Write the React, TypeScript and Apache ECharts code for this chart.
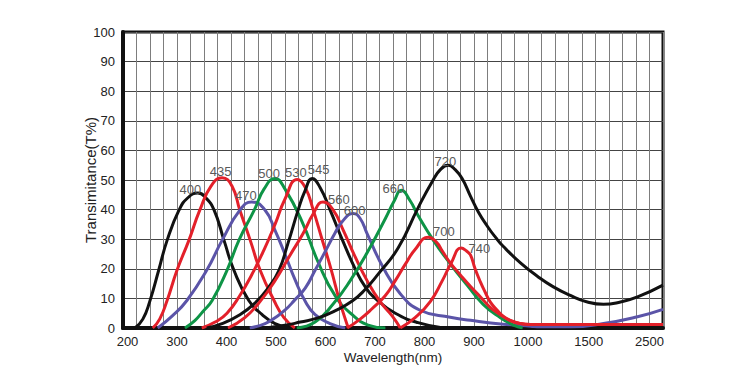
import React, { useEffect, useRef } from "react";
import * as echarts from "echarts";

// Axis tick labels (wavelength, nm) and the non-linear positions of the printed axis (in grid columns)
const X_TICKS = [200, 300, 400, 500, 600, 700, 800, 900, 1000, 1500, 2500];
const X_TICK_COLUMNS = [1 / 3, 4, 23 / 3, 34 / 3, 15, 56 / 3, 67 / 3, 26, 30, 34.5, 39];
const X_COLUMNS = 40;
const Y_MIN = 0;
const Y_MAX = 100;
const Y_STEP = 10;

// Transmittance curves: [wavelength (nm), T (%)]
const C400 = [[215,0],[231,3],[245,9],[263,19.5],[280,29.6],[304,39.8],[322,44],[342,45.6],[358,44],[375,39.8],[395,29.6],[415,19.5],[445,9.3],[472,4.5],[498,1.5],[528,0]];
const C435 = [[251,0],[265,3],[280,9.3],[300,19.5],[324,29.6],[346,39.8],[369,48],[391,50.8],[411,48],[427,39.8],[448,29.6],[468,19.5],[496,9.3],[516,3.5],[538,0]];
const C470 = [[261,0],[290,4],[320,9.3],[360,19.5],[391,29.6],[427,39.8],[451,42.6],[478,39.8],[498,33],[518,25],[538,16.5],[559,9],[579,4.5],[609,1.5],[640,0]];
const C500 = [[316,0],[336,2.5],[352,5.5],[371,9.3],[401,19.5],[425,29.6],[456,39.8],[476,47],[498,50.5],[518,47],[553,35.8],[585,22.3],[619,11],[654,4.5],[686,1],[721,0]];
const C530 = [[350,0],[377,2],[401,5],[427,11],[451,18],[476,26.5],[498,35],[518,43.5],[543,50.2],[559,47.5],[575,40],[593,30],[611,20],[627,10],[638,4],[646,0]];
const C545 = [[360,0],[391,1.5],[427,4.5],[458,8.5],[484,13.5],[506,19.5],[524,28.5],[545,40],[559,46.5],[573,50.5],[589,47.5],[609,40],[636,29],[660,20],[680,14],[704,9.5],[741,5],[787,1.8],[838,0]];
const C560 = [[403,0],[437,3.5],[468,9],[498,16],[528,24.5],[555,32],[575,38.5],[595,42.6],[615,40],[636,33],[660,24],[684,16],[710,9],[735,4],[751,0]];
const C600 = [[447,0],[478,1.5],[498,3.5],[518,6],[538,9.5],[559,13.5],[579,19.5],[599,25.7],[619,32],[634,36],[656,38.7],[670,37],[684,31.9],[716,20.6],[751,11.6],[791,6],[852,3.6],[893,2.6],[954,1.3],[1020,0.6],[1102,0.4],[1349,0.4],[1742,1.5],[2303,3.8],[2722,6.3]];
const C660 = [[542,0],[579,2],[615,8],[650,16],[686,26],[721,37],[739,43],[753,46.5],[771,43],[785,38.6],[818,29.6],[852,21.7],[886,14.5],[917,8],[949,3.5],[973,1],[990,0]];
const C700 = [[644,0],[670,3],[694,6.5],[721,11],[741,16],[761,21.5],[781,26.5],[808,30.7],[824,29],[836,26],[852,22],[872,18],[893,14],[912,10.5],[930,7],[949,4.5],[967,2.5],[986,1.5],[1020,1.2],[1500,1.2],[2722,1.2]];
const C720 = [[478,0],[518,0.9],[549,2],[585,3.4],[619,5.8],[654,9.1],[680,13],[706,18.1],[747,27.1],[787,40.6],[816,49.6],[832,53.5],[848,55],[862,53.5],[876,50.5],[893,44.5],[908,39.2],[925,34.3],[940,30.6],[954,27.6],[986,22],[1077,17.5],[1209,13.9],[1349,11],[1489,8.8],[1742,8],[2023,8.8],[2303,10.5],[2722,14.5]];
const C740 = [[751,0],[781,3.5],[812,9],[836,16],[854,22],[874,27],[885,26],[893,24.6],[902,20],[912,15.5],[921,12],[930,8.8],[943,6],[954,4],[971,2.3],[986,1.5],[1020,1.2],[1500,1.2],[2722,1.2]];

// Peak annotations: text and where it sits [wavelength, T]
const PEAK_LABELS = ["400", "435", "470", "500", "530", "545", "560", "600", "660", "700", "720", "740"];
const PEAK_LABEL_AT = [[327,46.9],[388,52.9],[439,44.8],[486,52.3],[540,52.4],[586,53.6],[627,43.5],[659,39.8],[737,47.1],[839,32.7],[842,56.3],[910,26.9]];

const CURVES = [C400, C435, C470, C500, C530, C545, C560, C600, C660, C700, C720, C740];
const COLORS = ["#111111", "#e3202a", "#5b54a8", "#0e9446", "#e3202a", "#111111", "#e3202a", "#5b54a8", "#0e9446", "#e3202a", "#111111", "#e3202a"];

function toCol(w: number): number {
  const n = X_TICKS.length;
  let i = 0;
  if (w <= X_TICKS[0]) i = 0;
  else if (w >= X_TICKS[n - 1]) i = n - 2;
  else {
    while (i < n - 2 && w > X_TICKS[i + 1]) i++;
  }
  const w0 = X_TICKS[i], w1 = X_TICKS[i + 1];
  const c0 = X_TICK_COLUMNS[i], c1 = X_TICK_COLUMNS[i + 1];
  return c0 + ((w - w0) / (w1 - w0)) * (c1 - c0);
}

const FONT = "Arial, 'Liberation Sans', Helvetica, sans-serif";

export default function App() {
  const ref = useRef<HTMLDivElement>(null);
  useEffect(() => {
    if (!ref.current) return;
    const chart = echarts.init(ref.current, undefined, { renderer: "svg" });
    const series = CURVES.map((curve, idx) => ({
      type: "line",
      name: PEAK_LABELS[idx],
      data: curve.map(([w, t]) => [toCol(w), t]),
      smooth: 0.5,
      symbol: "none",
      lineStyle: { color: COLORS[idx], width: 3 },
      itemStyle: { color: COLORS[idx] },
      clip: true,
      markPoint: {
        symbol: "circle",
        symbolSize: 1,
        itemStyle: { color: "rgba(0,0,0,0)" },
        silent: true,
        label: {
          show: true,
          position: "inside",
          color: "#5a5a5a",
          fontSize: 13,
          fontFamily: FONT,
          formatter: () => PEAK_LABELS[idx],
        },
        data: [{ coord: [toCol(PEAK_LABEL_AT[idx][0]), PEAK_LABEL_AT[idx][1]], value: PEAK_LABELS[idx] }],
      },
    }));
    chart.setOption({
      animation: false,
      backgroundColor: "#ffffff",
      grid: {
        left: 123,
        right: 87,
        top: 32,
        bottom: 52,
        show: true,
        borderColor: "#111",
        borderWidth: 3,
      },
      xAxis: {
        type: "value",
        min: 0,
        max: X_COLUMNS,
        interval: 1,
        name: "Wavelength(nm)",
        nameLocation: "middle",
        nameGap: 22,
        nameMoveOverlap: false,
        nameTextStyle: { fontSize: 13.5, color: "#222", fontFamily: FONT },
        axisLine: { show: true, lineStyle: { color: "#111", width: 4 } },
        axisTick: { show: false },
        splitLine: { show: true, lineStyle: { color: "#7d7d7d", width: 1 } },
        axisLabel: {
          customValues: X_TICK_COLUMNS,
          margin: 7,
          fontSize: 13,
          color: "#222",
          fontFamily: FONT,
          formatter: (v: number) => {
            const i = X_TICK_COLUMNS.findIndex((c) => Math.abs(c - v) < 1e-6);
            return i >= 0 ? String(X_TICKS[i]) : "";
          },
        },
      },
      yAxis: {
        type: "value",
        min: Y_MIN,
        max: Y_MAX,
        interval: Y_STEP,
        name: "Transimitance(T%)",
        nameLocation: "middle",
        nameGap: 25,
        nameMoveOverlap: false,
        nameTextStyle: { fontSize: 15, color: "#222", fontFamily: FONT },
        axisLine: { show: true, lineStyle: { color: "#111", width: 4 } },
        axisTick: { show: false },
        splitLine: { show: true, lineStyle: { color: "#444", width: 1 } },
        axisLabel: { margin: 8, fontSize: 13, color: "#222", fontFamily: FONT },
      },
      series,
    });
    return () => chart.dispose();
  }, []);
  return (
    <div
      ref={ref}
      style={{ position: "fixed", left: 0, top: 0, width: 750, height: 380, background: "#fff" }}
    />
  );
}
